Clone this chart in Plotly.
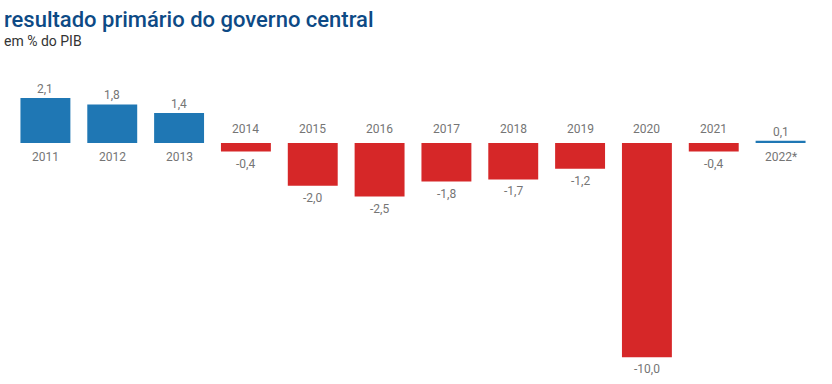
import plotly.graph_objects as go

years = ["2011", "2012", "2013", "2014", "2015", "2016", "2017", "2018", "2019", "2020", "2021", "2022*"]
values = [2.1, 1.8, 1.4, -0.4, -2.0, -2.5, -1.8, -1.7, -1.2, -10.0, -0.4, 0.1]
value_labels = ["2,1", "1,8", "1,4", "-0,4", "-2,0", "-2,5", "-1,8", "-1,7", "-1,2", "-10,0", "-0,4", "0,1"]

BLUE = "#1f77b4"
RED = "#d62728"
GRAY = "#757575"

colors = [BLUE if v >= 0 else RED for v in values]

fig = go.Figure(go.Bar(
    x=years, y=values, marker=dict(color=colors, line=dict(width=0)),
    hoverinfo="skip",
))

W, H = 832, 384
ml, mr, mt, mb = 11.5, 17.5, 67.5, 15.5
ph = H - mt - mb

ann = []
lab_font = dict(family="Roboto", size=12, color=GRAY)
for i, (yr, v, lab) in enumerate(zip(years, values, value_labels)):
    if v >= 0:
        ann.append(dict(x=i, y=v, text=lab, showarrow=False, yanchor="bottom", yshift=0, font=lab_font))
        ann.append(dict(x=i, y=0, text=yr, showarrow=False, yanchor="top", yshift=-5, font=lab_font))
    else:
        ann.append(dict(x=i, y=v, text=lab, showarrow=False, yanchor="top", yshift=-3, font=lab_font))
        ann.append(dict(x=i, y=0, text=yr, showarrow=False, yanchor="bottom", yshift=5, font=lab_font))

def py(pix):
    return (H - mb - pix) / ph

def px(pix):
    return (pix - ml) / (W - ml - mr)

ann.append(dict(xref="paper", yref="paper", x=px(1.5), y=py(4), xanchor="left", yanchor="top",
                text="resultado primário do governo central", showarrow=False,
                font=dict(family="Roboto", size=22, weight=500, color="#0d4a85")))
ann.append(dict(xref="paper", yref="paper", x=px(1.5), y=py(30), xanchor="left", yanchor="top",
                text="em % do PIB", showarrow=False,
                font=dict(family="Roboto", size=14, color="#333333")))

fig.update_layout(
    width=W, height=H,
    margin=dict(l=ml, r=mr, t=mt, b=mb, pad=0),
    paper_bgcolor="white", plot_bgcolor="white",
    bargap=0.253,
    showlegend=False,
    xaxis=dict(visible=False, type="category", range=[-0.5, 11.5]),
    yaxis=dict(visible=False, range=[-10.5, 3.5]),
    annotations=ann,
)

fig.write_html("out.html", config={"displayModeBar": False},
               post_script="document.body.style.margin='0px';")
